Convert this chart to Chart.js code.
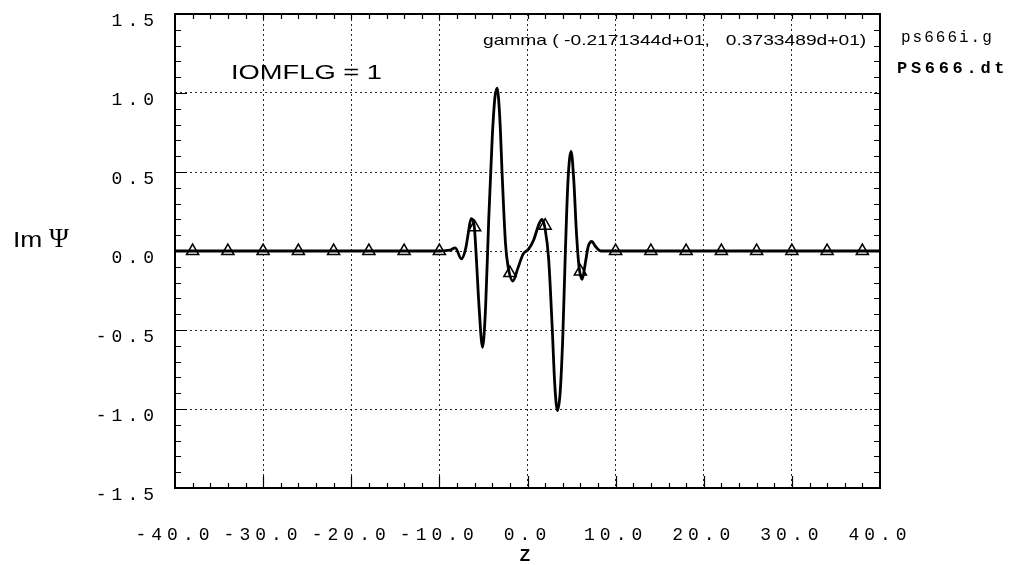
<!DOCTYPE html>
<html>
<head>
<meta charset="utf-8">
<title>Im psi</title>
<script src="https://cdn.jsdelivr.net/npm/chart.js@4.4.0/dist/chart.umd.min.js"></script>
<style>
    body { margin: 0; background: #fff; }
    #psi-chart { display: block; }
</style>
</head>
<body>
<canvas id="psi-chart" width="1012" height="565"></canvas>
<script>
// Im(psi) along z, smooth curve
const curveZ = [-40, -10, -8.8, -8.2, -7.5, -7.0, -6.7, -6.4, -6.05, -5.8, -5.5, -5.1, -4.75, -4.4, -4.0, -3.7,
    -3.45, -3.15, -2.85, -2.5, -2.2, -1.65, -1.1, -0.5, 0.1, 0.7, 1.3, 1.65, 2.0, 2.4, 2.8, 3.1, 3.4, 3.7, 4.0,
    4.3, 4.6, 4.95, 5.25, 5.55, 5.85, 6.2, 6.55, 6.9, 7.3, 7.7, 8.3, 40];
const curveV = [0, 0, 0.005, 0.02, -0.05, 0.02, 0.12, 0.205, 0.16, -0.05, -0.35, -0.61, -0.35, 0.2, 0.72, 0.97,
    1.03, 0.85, 0.45, 0.05, -0.1, -0.19, -0.11, -0.02, 0.01, 0.07, 0.17, 0.2, 0.14, -0.05, -0.48, -0.85, -1.01, -0.9, -0.55,
    0.0, 0.45, 0.63, 0.45, 0.12, -0.1, -0.18, -0.08, 0.03, 0.06, 0.03, 0, 0];

// sampled points (triangles)
const markerZ = [-38, -34, -30, -26, -22, -18, -14, -10, -6, -2, 2, 6, 10, 14, 18, 22, 26, 30, 34, 38];
const markerV = [0, 0, 0, 0, 0, 0, 0, 0, 0.15, -0.14, 0.16, -0.13, 0, 0, 0, 0, 0, 0, 0, 0];

const xTicks = [-40, -30, -20, -10, 0, 10, 20, 30, 40];
const yTicks = [-1.5, -1.0, -0.5, 0.0, 0.5, 1.0, 1.5];

const gammaText = 'gamma ( -0.2171344d+01,   0.3733489d+01)';
const flagText = 'IOMFLG = 1';
const fileNames = ['ps666i.g', 'PS666.dt'];

const monoFont = "'Liberation Mono', 'DejaVu Sans Mono', monospace";
const sansFont = "'Liberation Sans', Arial, sans-serif";

function toPoints(xs, ys) {
    return xs.map((x, i) => ({x: x, y: ys[i]}));
}

function drawTickMarks(chart) {
    const ctx = chart.ctx;
    const area = chart.chartArea;
    const xScale = chart.scales.x;
    const yScale = chart.scales.y;

    ctx.save();
    ctx.strokeStyle = '#000';
    ctx.lineWidth = 1.2;
    ctx.beginPath();
    // every 2 in z, long at the labelled ones
    for (let z = -38; z <= 38; z += 2) {
        const px = Math.round(xScale.getPixelForValue(z)) + 0.5;
        const len = z % 10 === 0 ? 12 : 5;
        ctx.moveTo(px, area.bottom);
        ctx.lineTo(px, area.bottom - len);
        ctx.moveTo(px, area.top);
        ctx.lineTo(px, area.top + 5);
    }
    // every 0.1 in Im psi
    for (let k = -14; k <= 14; k++) {
        const py = Math.round(yScale.getPixelForValue(k / 10)) + 0.5;
        const len = k % 5 === 0 ? 12 : 6;
        ctx.moveTo(area.left, py);
        ctx.lineTo(area.left + len, py);
        ctx.moveTo(area.right, py);
        ctx.lineTo(area.right - 6, py);
    }
    ctx.stroke();
    ctx.restore();
}

// sans text comes out wide on this plotter, so stretch it sideways
function wideText(ctx, text, x, y, stretch) {
    ctx.save();
    ctx.translate(x, y);
    ctx.scale(stretch, 1);
    ctx.fillText(text, 0, 0);
    ctx.restore();
}

function drawNotes(chart) {
    const ctx = chart.ctx;
    const area = chart.chartArea;

    ctx.save();
    ctx.lineWidth = 2;
    ctx.strokeStyle = '#000';
    ctx.strokeRect(area.left, area.top, area.right - area.left, area.bottom - area.top);

    ctx.fillStyle = '#000';
    ctx.textBaseline = 'middle';
    ctx.textAlign = 'left';

    ctx.font = '15px ' + sansFont;
    wideText(ctx, gammaText, 483, 41, 1.28);

    ctx.font = '21px ' + sansFont;
    wideText(ctx, flagText, 231, 73, 1.3);

    ctx.font = '22px ' + sansFont;
    wideText(ctx, 'Im', 13, 241, 1.2);
    ctx.font = '27px ' + "'Liberation Serif', serif";
    ctx.fillText('\u03A8', 49, 240);

    ctx.letterSpacing = '2px';
    ctx.font = '16px ' + monoFont;
    ctx.fillText(fileNames[0], 901, 38);
    ctx.letterSpacing = '3.7px';
    ctx.font = 'bold 17px ' + monoFont;
    ctx.fillText(fileNames[1], 897, 69);
    ctx.restore();
}

const psiPlugin = {
    id: 'psiFrame',
    beforeDraw(chart) {
        // spaced-out axis numbers
        chart.ctx.letterSpacing = '5px';
    },
    beforeDatasetsDraw(chart) {
        chart.ctx.letterSpacing = '0px';
        drawTickMarks(chart);
    },
    afterDraw(chart) {
        drawNotes(chart);
    }
};

function drawPsiChart() {
    const data = {
        datasets: [
            {
                label: 'markers',
                data: toPoints(markerZ, markerV),
                showLine: false,
                pointStyle: 'triangle',
                pointRadius: 7,
                pointBorderWidth: 1.5,
                pointBorderColor: '#000',
                pointBackgroundColor: 'rgba(255,255,255,0)',
                order: 0
            },
            {
                label: 'Im psi',
                data: toPoints(curveZ, curveV),
                borderColor: '#000',
                borderWidth: 2.8,
                pointRadius: 0,
                cubicInterpolationMode: 'monotone',
                fill: false,
                order: 1
            }
        ]
    };

    const gridOptions = {
        lineWidth: 1,
        drawTicks: false
    };

    const chartConfig = {
        type: 'line',
        data: data,
        options: {
            responsive: false,
            animation: false,
            events: [],
            layout: {
                padding: {left: 0, right: 132, top: 14, bottom: 0}
            },
            scales: {
                x: {
                    type: 'linear',
                    min: -40,
                    max: 40,
                    afterBuildTicks: (scale) => {
                        scale.ticks = xTicks.map((v) => ({value: v}));
                    },
                    afterFit: (scale) => {
                        scale.height = 77;
                        scale.paddingLeft = 0;
                        scale.paddingRight = 0;
                    },
                    grid: Object.assign({}, gridOptions, {
                        color: (c) => (c.tick && Math.abs(c.tick.value) === 40) ? 'rgba(0,0,0,0)' : 'rgba(0,0,0,0.85)'
                    }),
                    border: {display: false, dash: [2, 3]},
                    ticks: {
                        autoSkip: false,
                        maxRotation: 0,
                        padding: 36,
                        color: '#000',
                        font: {family: monoFont, size: 18},
                        callback: (value) => Number(value).toFixed(1)
                    },
                    title: {
                        display: true,
                        text: 'Z',
                        color: '#000',
                        padding: 0,
                        font: {family: sansFont, size: 17, weight: 'bold', lineHeight: 1}
                    }
                },
                y: {
                    type: 'linear',
                    min: -1.5,
                    max: 1.5,
                    afterBuildTicks: (scale) => {
                        scale.ticks = yTicks.map((v) => ({value: v}));
                    },
                    afterFit: (scale) => {
                        scale.width = 175;
                        scale.paddingTop = 0;
                        scale.paddingBottom = 0;
                    },
                    grid: Object.assign({}, gridOptions, {
                        color: (c) => (c.tick && Math.abs(c.tick.value) === 1.5) ? 'rgba(0,0,0,0)' : 'rgba(0,0,0,0.85)'
                    }),
                    border: {display: false, dash: [2, 3]},
                    ticks: {
                        padding: 16,
                        labelOffset: 7,
                        color: '#000',
                        font: {family: monoFont, size: 18},
                        callback: (value) => Number(value).toFixed(1)
                    }
                }
            },
            plugins: {
                legend: {display: false},
                tooltip: {enabled: false}
            }
        },
        plugins: [psiPlugin]
    };

    const canvas = document.querySelector('#psi-chart');
    if (canvas) {
        const psiChart = new Chart(canvas, chartConfig);
    }
}

drawPsiChart();
</script>
</body>
</html>
